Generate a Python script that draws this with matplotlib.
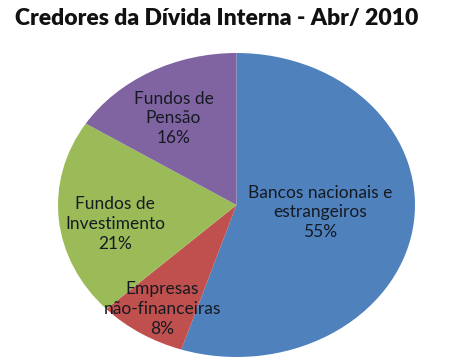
import numpy as np
import matplotlib
matplotlib.use("Agg")
import matplotlib.pyplot as plt

categories = ["Bancos nacionais e\nestrangeiros", "Empresas\nnão-financeiras",
              "Fundos de\nInvestimento", "Fundos de\nPensão"]
values = [55, 8, 21, 16]
colors = ["#4F81BD", "#C0504D", "#9BBB59", "#8064A2"]
title = "Credores da Dívida Interna - Abr/ 2010"

label_dist = [0.47, 0.80, 0.69, 0.67]
label_shift = [3, 1, 5, 3]

plt.rcParams['font.family'] = ['Lato', 'DejaVu Sans']

fig = plt.figure(figsize=(4.5, 3.64), dpi=100)
W, H = 450, 364
left, right, top, bottom = 58, 415, 53, 357
ax = fig.add_axes([left / W, (H - bottom) / H, (right - left) / W, (bottom - top) / H])
wedges, _ = ax.pie(values, colors=colors, startangle=90, counterclock=False,
                   wedgeprops=dict(linewidth=0))
ax.set_aspect('auto')
ax.set_xlim(-1, 1)
ax.set_ylim(-1, 1)
ax.axis('off')

for w, cat, v, d, s in zip(wedges, categories, values, label_dist, label_shift):
    ang = np.deg2rad((w.theta1 + w.theta2) / 2 + s)
    ax.text(d * np.cos(ang), d * np.sin(ang), f"{cat}\n{v}%", ha='center', va='center',
            fontsize=12.5, color='#151a22', linespacing=1.3)

fig.text(15 / W, 1 - 18 / H, title, ha='left', va='center', fontsize=16.5,
         fontweight='heavy', color='#111111')

fig.savefig("out.png", dpi=100)
